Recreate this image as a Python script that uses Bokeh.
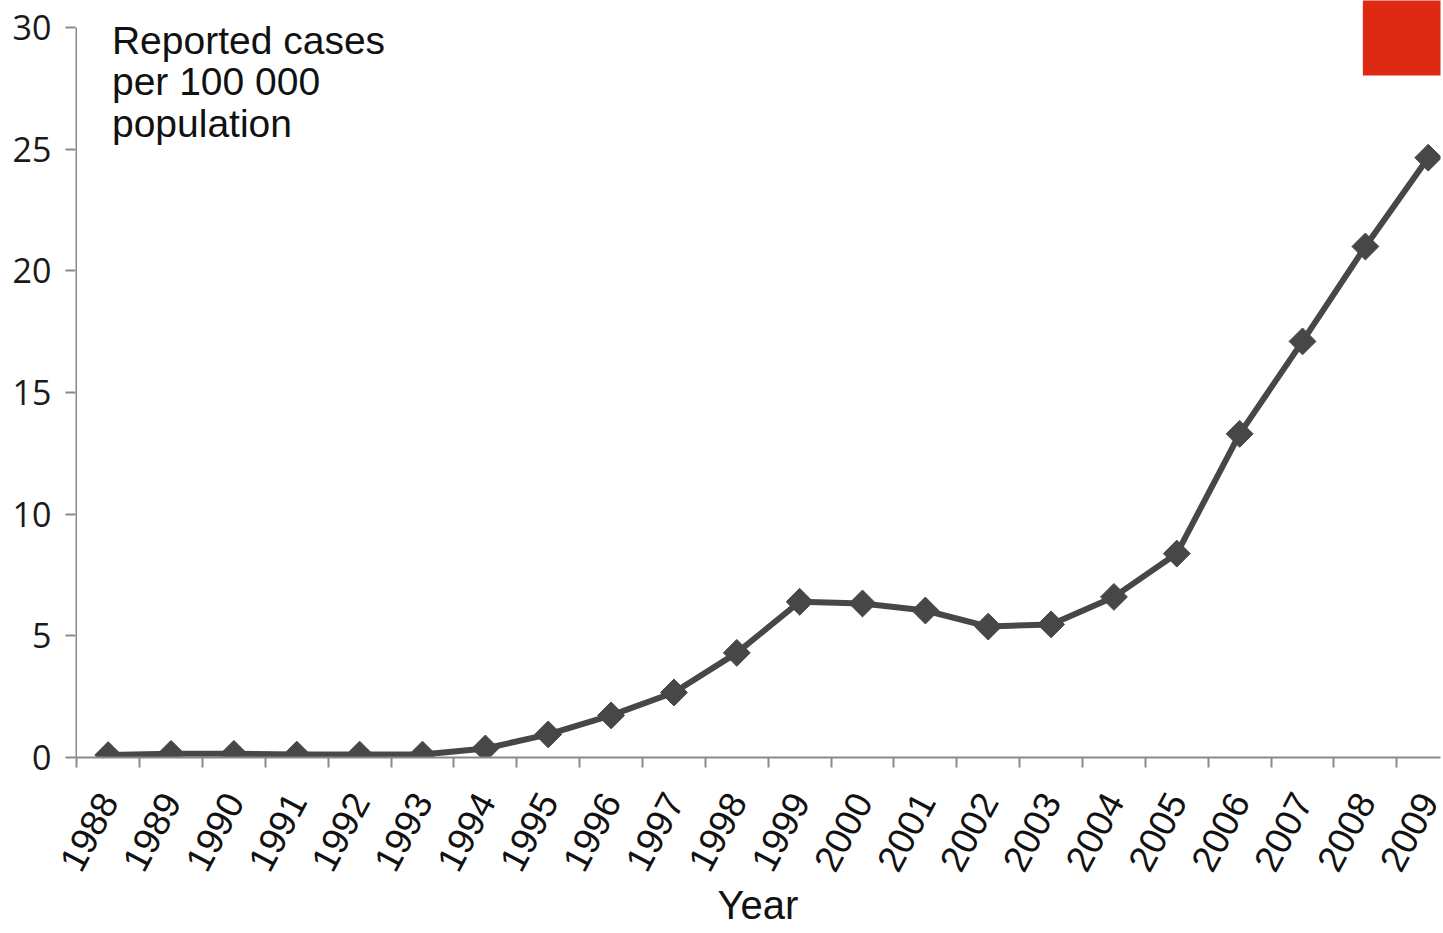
import math
from bokeh.plotting import figure
from bokeh.models import Range1d, FixedTicker, Label, BoxAnnotation
from bokeh.embed import file_html
from bokeh.resources import INLINE

years = list(range(1988, 2010))
rates = [0.1, 0.15, 0.15, 0.12, 0.12, 0.12, 0.37, 0.95, 1.73, 2.67, 4.3,
         6.4, 6.33, 6.04, 5.38, 5.47, 6.6, 8.38, 13.3, 17.1, 21.0, 24.65]
year_labels = [str(y) for y in years]
y_ticks = [0, 5, 10, 15, 20, 25, 30]
annotation = "Reported cases\nper 100 000\npopulation"
x_title = "Year"

W, H = 1443, 933
left, right = 75, 3
frame_bottom = 757            # pixel row of value 0
px_per_unit = (757 - 27) / 30.0
frame_w = W - left - right
cat_px = 62.86
x_start = years[0] - 0.52
x_end = x_start + frame_w / cat_px
y_top = 30 + 27 / px_per_unit  # frame reaches the top edge of the canvas

p = figure(width=W, height=H, output_backend="svg", toolbar_location=None,
           x_range=Range1d(x_start, x_end), y_range=Range1d(0, y_top),
           min_border_left=left, min_border_right=right, min_border_top=0,
           min_border_bottom=H - frame_bottom)
p.outline_line_color = None
p.grid.grid_line_color = None
p.background_fill_color = "white"
p.border_fill_color = "white"

axis_col = "#8a8a8a"
# y axis (line drawn separately so that it stops at 30)
p.yaxis.ticker = FixedTicker(ticks=y_ticks)
p.yaxis.axis_line_color = None
p.yaxis.major_tick_line_color = axis_col
p.yaxis.major_tick_line_width = 2
p.yaxis.major_tick_out = 10
p.yaxis.major_tick_in = 0
p.yaxis.minor_tick_line_color = None
p.yaxis.major_label_text_font = "Open Sans"
p.yaxis.major_label_text_font_size = "34px"
p.yaxis.major_label_text_color = "#1a1a1a"
p.yaxis.major_label_standoff = 14
p.segment(x0=[x_start], y0=[0], x1=[x_start], y1=[y_ticks[-1]],
          line_color=axis_col, line_width=3)

# x axis
boundaries = [y - 0.5 for y in years] + [years[-1] + 0.5]
p.xaxis.ticker = FixedTicker(ticks=years, minor_ticks=boundaries)
p.xaxis.major_label_overrides = {y: s for y, s in zip(years, year_labels)}
p.xaxis.axis_line_color = axis_col
p.xaxis.axis_line_width = 2
p.xaxis.major_tick_line_color = None
p.xaxis.major_tick_out = 0
p.xaxis.major_tick_in = 0
p.xaxis.minor_tick_line_color = axis_col
p.xaxis.minor_tick_line_width = 2
p.xaxis.minor_tick_out = 10
p.xaxis.minor_tick_in = 0
p.xaxis.major_label_orientation = math.radians(62)
p.xaxis.major_label_text_font = "Liberation Sans"
p.xaxis.major_label_text_font_size = "37px"
p.xaxis.major_label_text_color = "#111111"
p.xaxis.major_label_standoff = 28
p.xaxis.axis_label = x_title
p.xaxis.axis_label_text_font = "Liberation Sans"
p.xaxis.axis_label_text_font_size = "40px"
p.xaxis.axis_label_text_font_style = "normal"
p.xaxis.axis_label_text_color = "#111111"
p.xaxis.axis_label_standoff = 0

line_col = "#474747"
p.line(years, rates, line_color=line_col, line_width=6)
p.scatter(years, rates, marker="square", angle=math.pi / 4, size=19,
          fill_color=line_col, line_color=line_col)

p.add_layout(Label(x=years[0] + 0.06, y=30.35, text=annotation,
                   text_font="Liberation Sans", text_font_size="39px",
                   text_color="#111111", text_baseline="top",
                   text_line_height=0.96))

p.add_layout(BoxAnnotation(left=2007.96, right=x_end + 1, bottom=28.03, top=y_top + 1,
                           fill_color="#de2a12", fill_alpha=1.0, line_color=None))

open("out.html", "w").write(file_html(p, INLINE))
